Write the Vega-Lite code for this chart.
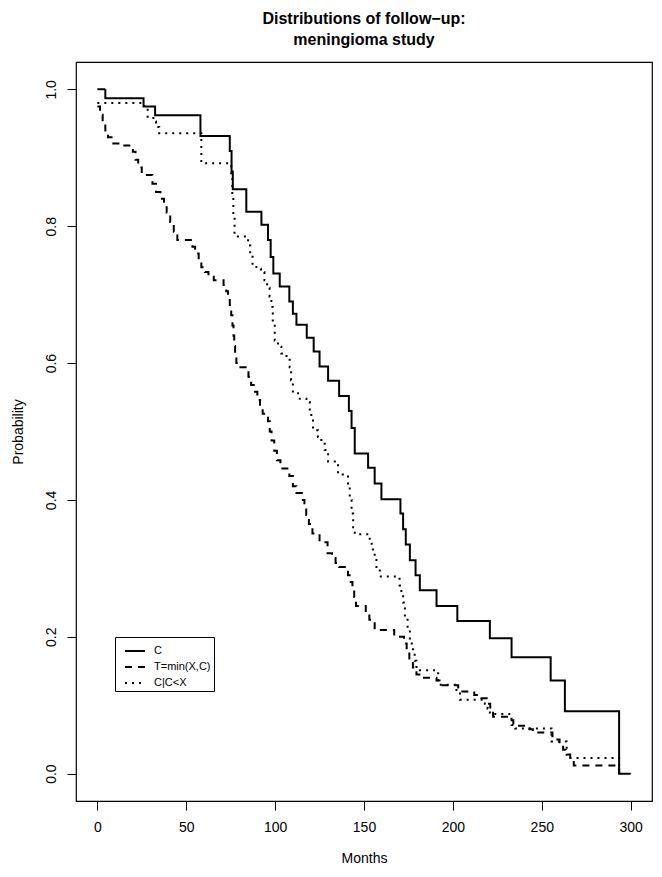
{
  "$schema": "https://vega.github.io/schema/vega-lite/v6.json",
  "width": 576,
  "height": 739,
  "autosize": {"type": "none"},
  "padding": {"left": 76, "top": 62, "right": 10, "bottom": 76},
  "background": "white",
  "title": {
    "text": ["Distributions of follow−up:", "meningioma study"],
    "font": "Liberation Sans",
    "fontSize": 16,
    "fontWeight": "bold",
    "lineHeight": 21,
    "anchor": "middle",
    "offset": 14,
    "color": "black"
  },
  "config": {
    "view": {"stroke": "black", "strokeWidth": 1.2},
    "font": "Liberation Sans"
  },
  "data": {
    "values": [
      {"curve": "C", "months": 0, "prob": 1.0},
      {"curve": "C", "months": 4.5, "prob": 0.987},
      {"curve": "C", "months": 26, "prob": 0.975},
      {"curve": "C", "months": 32.5, "prob": 0.962},
      {"curve": "C", "months": 58, "prob": 0.932},
      {"curve": "C", "months": 74.5, "prob": 0.91},
      {"curve": "C", "months": 75.5, "prob": 0.88},
      {"curve": "C", "months": 76.2, "prob": 0.854},
      {"curve": "C", "months": 83.8, "prob": 0.821},
      {"curve": "C", "months": 92.3, "prob": 0.802},
      {"curve": "C", "months": 96, "prob": 0.78},
      {"curve": "C", "months": 97.5, "prob": 0.755},
      {"curve": "C", "months": 99, "prob": 0.731},
      {"curve": "C", "months": 102.6, "prob": 0.712},
      {"curve": "C", "months": 108, "prob": 0.69},
      {"curve": "C", "months": 110, "prob": 0.672},
      {"curve": "C", "months": 112, "prob": 0.656},
      {"curve": "C", "months": 117.8, "prob": 0.637},
      {"curve": "C", "months": 121.7, "prob": 0.617},
      {"curve": "C", "months": 125, "prob": 0.595},
      {"curve": "C", "months": 129.8, "prob": 0.574},
      {"curve": "C", "months": 136, "prob": 0.552},
      {"curve": "C", "months": 141.5, "prob": 0.53},
      {"curve": "C", "months": 143, "prob": 0.505},
      {"curve": "C", "months": 144.8, "prob": 0.468},
      {"curve": "C", "months": 152.3, "prob": 0.447},
      {"curve": "C", "months": 156, "prob": 0.424},
      {"curve": "C", "months": 159.8, "prob": 0.401},
      {"curve": "C", "months": 170.5, "prob": 0.38},
      {"curve": "C", "months": 172, "prob": 0.357},
      {"curve": "C", "months": 173.5, "prob": 0.335},
      {"curve": "C", "months": 175.8, "prob": 0.312},
      {"curve": "C", "months": 179, "prob": 0.29},
      {"curve": "C", "months": 181.4, "prob": 0.268},
      {"curve": "C", "months": 190.8, "prob": 0.245},
      {"curve": "C", "months": 202.5, "prob": 0.223},
      {"curve": "C", "months": 220.8, "prob": 0.198},
      {"curve": "C", "months": 233, "prob": 0.17},
      {"curve": "C", "months": 255, "prob": 0.136},
      {"curve": "C", "months": 263, "prob": 0.091},
      {"curve": "C", "months": 293.5, "prob": 0.0},
      {"curve": "C", "months": 300, "prob": 0.0},

      {"curve": "T=min(X,C)", "months": 0, "prob": 0.975},
      {"curve": "T=min(X,C)", "months": 1.5, "prob": 0.963},
      {"curve": "T=min(X,C)", "months": 3, "prob": 0.95},
      {"curve": "T=min(X,C)", "months": 4.5, "prob": 0.94},
      {"curve": "T=min(X,C)", "months": 6, "prob": 0.93},
      {"curve": "T=min(X,C)", "months": 9, "prob": 0.921},
      {"curve": "T=min(X,C)", "months": 14, "prob": 0.918},
      {"curve": "T=min(X,C)", "months": 20, "prob": 0.909},
      {"curve": "T=min(X,C)", "months": 21.5, "prob": 0.897},
      {"curve": "T=min(X,C)", "months": 23, "prob": 0.886},
      {"curve": "T=min(X,C)", "months": 25, "prob": 0.875},
      {"curve": "T=min(X,C)", "months": 31, "prob": 0.862},
      {"curve": "T=min(X,C)", "months": 33, "prob": 0.85},
      {"curve": "T=min(X,C)", "months": 35.5, "prob": 0.84},
      {"curve": "T=min(X,C)", "months": 37.5, "prob": 0.83},
      {"curve": "T=min(X,C)", "months": 39, "prob": 0.82},
      {"curve": "T=min(X,C)", "months": 41, "prob": 0.806},
      {"curve": "T=min(X,C)", "months": 43, "prob": 0.792},
      {"curve": "T=min(X,C)", "months": 45, "prob": 0.78},
      {"curve": "T=min(X,C)", "months": 53.5, "prob": 0.77},
      {"curve": "T=min(X,C)", "months": 55, "prob": 0.76},
      {"curve": "T=min(X,C)", "months": 57, "prob": 0.75},
      {"curve": "T=min(X,C)", "months": 58.5, "prob": 0.74},
      {"curve": "T=min(X,C)", "months": 60.5, "prob": 0.733},
      {"curve": "T=min(X,C)", "months": 62.5, "prob": 0.726},
      {"curve": "T=min(X,C)", "months": 65.5, "prob": 0.721},
      {"curve": "T=min(X,C)", "months": 71, "prob": 0.714},
      {"curve": "T=min(X,C)", "months": 72.5, "prob": 0.705},
      {"curve": "T=min(X,C)", "months": 73.5, "prob": 0.695},
      {"curve": "T=min(X,C)", "months": 74.5, "prob": 0.685},
      {"curve": "T=min(X,C)", "months": 75.3, "prob": 0.67},
      {"curve": "T=min(X,C)", "months": 76, "prob": 0.655},
      {"curve": "T=min(X,C)", "months": 76.6, "prob": 0.64},
      {"curve": "T=min(X,C)", "months": 77, "prob": 0.625},
      {"curve": "T=min(X,C)", "months": 77.5, "prob": 0.61},
      {"curve": "T=min(X,C)", "months": 78.2, "prob": 0.6},
      {"curve": "T=min(X,C)", "months": 80.5, "prob": 0.594},
      {"curve": "T=min(X,C)", "months": 85, "prob": 0.58},
      {"curve": "T=min(X,C)", "months": 86.5, "prob": 0.568},
      {"curve": "T=min(X,C)", "months": 88, "prob": 0.558},
      {"curve": "T=min(X,C)", "months": 90, "prob": 0.546},
      {"curve": "T=min(X,C)", "months": 91.5, "prob": 0.535},
      {"curve": "T=min(X,C)", "months": 93, "prob": 0.526},
      {"curve": "T=min(X,C)", "months": 96, "prob": 0.515},
      {"curve": "T=min(X,C)", "months": 97, "prob": 0.5},
      {"curve": "T=min(X,C)", "months": 98, "prob": 0.487},
      {"curve": "T=min(X,C)", "months": 99.5, "prob": 0.472},
      {"curve": "T=min(X,C)", "months": 101, "prob": 0.458},
      {"curve": "T=min(X,C)", "months": 103, "prob": 0.446},
      {"curve": "T=min(X,C)", "months": 108, "prob": 0.435},
      {"curve": "T=min(X,C)", "months": 110, "prob": 0.42},
      {"curve": "T=min(X,C)", "months": 112, "prob": 0.41},
      {"curve": "T=min(X,C)", "months": 115, "prob": 0.4},
      {"curve": "T=min(X,C)", "months": 116.5, "prob": 0.39},
      {"curve": "T=min(X,C)", "months": 117.5, "prob": 0.378},
      {"curve": "T=min(X,C)", "months": 119, "prob": 0.365},
      {"curve": "T=min(X,C)", "months": 121, "prob": 0.351},
      {"curve": "T=min(X,C)", "months": 125, "prob": 0.338},
      {"curve": "T=min(X,C)", "months": 129.5, "prob": 0.322},
      {"curve": "T=min(X,C)", "months": 132, "prob": 0.315},
      {"curve": "T=min(X,C)", "months": 134, "prob": 0.308},
      {"curve": "T=min(X,C)", "months": 136, "prob": 0.302},
      {"curve": "T=min(X,C)", "months": 141, "prob": 0.29},
      {"curve": "T=min(X,C)", "months": 142.5, "prob": 0.28},
      {"curve": "T=min(X,C)", "months": 143.5, "prob": 0.27},
      {"curve": "T=min(X,C)", "months": 144.5, "prob": 0.258},
      {"curve": "T=min(X,C)", "months": 145.5, "prob": 0.245},
      {"curve": "T=min(X,C)", "months": 151, "prob": 0.236},
      {"curve": "T=min(X,C)", "months": 153, "prob": 0.225},
      {"curve": "T=min(X,C)", "months": 156, "prob": 0.21},
      {"curve": "T=min(X,C)", "months": 167, "prob": 0.2},
      {"curve": "T=min(X,C)", "months": 172.5, "prob": 0.19},
      {"curve": "T=min(X,C)", "months": 174, "prob": 0.178},
      {"curve": "T=min(X,C)", "months": 175.5, "prob": 0.166},
      {"curve": "T=min(X,C)", "months": 177.5, "prob": 0.155},
      {"curve": "T=min(X,C)", "months": 179.5, "prob": 0.145},
      {"curve": "T=min(X,C)", "months": 183, "prob": 0.14},
      {"curve": "T=min(X,C)", "months": 190.8, "prob": 0.136},
      {"curve": "T=min(X,C)", "months": 192.5, "prob": 0.129},
      {"curve": "T=min(X,C)", "months": 203, "prob": 0.12},
      {"curve": "T=min(X,C)", "months": 212, "prob": 0.115},
      {"curve": "T=min(X,C)", "months": 216, "prob": 0.11},
      {"curve": "T=min(X,C)", "months": 219, "prob": 0.102},
      {"curve": "T=min(X,C)", "months": 221, "prob": 0.093},
      {"curve": "T=min(X,C)", "months": 222.6, "prob": 0.083},
      {"curve": "T=min(X,C)", "months": 231, "prob": 0.078},
      {"curve": "T=min(X,C)", "months": 234, "prob": 0.07},
      {"curve": "T=min(X,C)", "months": 243, "prob": 0.065},
      {"curve": "T=min(X,C)", "months": 245, "prob": 0.06},
      {"curve": "T=min(X,C)", "months": 256, "prob": 0.05},
      {"curve": "T=min(X,C)", "months": 260, "prob": 0.042},
      {"curve": "T=min(X,C)", "months": 262, "prob": 0.035},
      {"curve": "T=min(X,C)", "months": 263.5, "prob": 0.028},
      {"curve": "T=min(X,C)", "months": 266, "prob": 0.02},
      {"curve": "T=min(X,C)", "months": 268, "prob": 0.012},
      {"curve": "T=min(X,C)", "months": 293.5, "prob": 0.0},

      {"curve": "C|C<X", "months": 0, "prob": 0.98},
      {"curve": "C|C<X", "months": 26.4, "prob": 0.972},
      {"curve": "C|C<X", "months": 28.3, "prob": 0.96},
      {"curve": "C|C<X", "months": 31.5, "prob": 0.953},
      {"curve": "C|C<X", "months": 33, "prob": 0.945},
      {"curve": "C|C<X", "months": 34.8, "prob": 0.936},
      {"curve": "C|C<X", "months": 58.5, "prob": 0.892},
      {"curve": "C|C<X", "months": 75.3, "prob": 0.87},
      {"curve": "C|C<X", "months": 75.9, "prob": 0.845},
      {"curve": "C|C<X", "months": 76.5, "prob": 0.815},
      {"curve": "C|C<X", "months": 77.2, "prob": 0.785},
      {"curve": "C|C<X", "months": 84.8, "prob": 0.772},
      {"curve": "C|C<X", "months": 86, "prob": 0.76},
      {"curve": "C|C<X", "months": 87.3, "prob": 0.745},
      {"curve": "C|C<X", "months": 89.5, "prob": 0.738},
      {"curve": "C|C<X", "months": 92, "prob": 0.733},
      {"curve": "C|C<X", "months": 94, "prob": 0.721},
      {"curve": "C|C<X", "months": 95.5, "prob": 0.71},
      {"curve": "C|C<X", "months": 96.9, "prob": 0.697},
      {"curve": "C|C<X", "months": 97.9, "prob": 0.682},
      {"curve": "C|C<X", "months": 98.7, "prob": 0.66},
      {"curve": "C|C<X", "months": 99.8, "prob": 0.633},
      {"curve": "C|C<X", "months": 101.6, "prob": 0.624},
      {"curve": "C|C<X", "months": 103.5, "prob": 0.614},
      {"curve": "C|C<X", "months": 106.4, "prob": 0.609},
      {"curve": "C|C<X", "months": 108.2, "prob": 0.594},
      {"curve": "C|C<X", "months": 109, "prob": 0.575},
      {"curve": "C|C<X", "months": 110, "prob": 0.556},
      {"curve": "C|C<X", "months": 112.9, "prob": 0.548},
      {"curve": "C|C<X", "months": 117.6, "prob": 0.543},
      {"curve": "C|C<X", "months": 119.5, "prob": 0.524},
      {"curve": "C|C<X", "months": 121.3, "prob": 0.502},
      {"curve": "C|C<X", "months": 124.1, "prob": 0.492},
      {"curve": "C|C<X", "months": 126, "prob": 0.482},
      {"curve": "C|C<X", "months": 127.9, "prob": 0.473},
      {"curve": "C|C<X", "months": 129.8, "prob": 0.456},
      {"curve": "C|C<X", "months": 135.4, "prob": 0.437},
      {"curve": "C|C<X", "months": 141, "prob": 0.419},
      {"curve": "C|C<X", "months": 142, "prob": 0.4},
      {"curve": "C|C<X", "months": 143, "prob": 0.38},
      {"curve": "C|C<X", "months": 143.9, "prob": 0.36},
      {"curve": "C|C<X", "months": 144.8, "prob": 0.35},
      {"curve": "C|C<X", "months": 153.2, "prob": 0.336},
      {"curve": "C|C<X", "months": 155, "prob": 0.32},
      {"curve": "C|C<X", "months": 157, "prob": 0.302},
      {"curve": "C|C<X", "months": 158.9, "prob": 0.288},
      {"curve": "C|C<X", "months": 170, "prob": 0.275},
      {"curve": "C|C<X", "months": 171, "prob": 0.262},
      {"curve": "C|C<X", "months": 172, "prob": 0.25},
      {"curve": "C|C<X", "months": 173, "prob": 0.229},
      {"curve": "C|C<X", "months": 174.5, "prob": 0.21},
      {"curve": "C|C<X", "months": 175.8, "prob": 0.19},
      {"curve": "C|C<X", "months": 177.6, "prob": 0.18},
      {"curve": "C|C<X", "months": 178.5, "prob": 0.165},
      {"curve": "C|C<X", "months": 179.5, "prob": 0.156},
      {"curve": "C|C<X", "months": 181.4, "prob": 0.151},
      {"curve": "C|C<X", "months": 191.7, "prob": 0.13},
      {"curve": "C|C<X", "months": 202, "prob": 0.119},
      {"curve": "C|C<X", "months": 204, "prob": 0.108},
      {"curve": "C|C<X", "months": 218, "prob": 0.102},
      {"curve": "C|C<X", "months": 219.5, "prob": 0.095},
      {"curve": "C|C<X", "months": 220.8, "prob": 0.087},
      {"curve": "C|C<X", "months": 233, "prob": 0.071},
      {"curve": "C|C<X", "months": 235, "prob": 0.066},
      {"curve": "C|C<X", "months": 255.5, "prob": 0.047},
      {"curve": "C|C<X", "months": 264, "prob": 0.023},
      {"curve": "C|C<X", "months": 293.5, "prob": 0.0}
    ]
  },
  "mark": {"type": "line", "interpolate": "step-after", "strokeWidth": 2, "color": "black"},
  "encoding": {
    "x": {
      "field": "months",
      "type": "quantitative",
      "scale": {"domain": [-12, 312], "nice": false, "zero": false},
      "axis": {
        "values": [0, 50, 100, 150, 200, 250, 300],
        "domain": false,
        "grid": false,
        "tickSize": 9,
        "tickColor": "black",
        "labelFontSize": 14,
        "labelColor": "black",
        "labelPadding": 10,
        "labelFont": "Liberation Sans",
        "title": "Months",
        "titleFont": "Liberation Sans",
        "titleFontSize": 14,
        "titleFontWeight": "normal",
        "titleColor": "black",
        "titleY": 57,
        "titleBaseline": "middle"
      }
    },
    "y": {
      "field": "prob",
      "type": "quantitative",
      "scale": {"domain": [-0.04, 1.04], "nice": false, "zero": false},
      "axis": {
        "values": [0, 0.2, 0.4, 0.6, 0.8, 1.0],
        "format": ".1f",
        "domain": false,
        "grid": false,
        "tickSize": 9,
        "tickColor": "black",
        "labelFontSize": 14,
        "labelColor": "black",
        "labelPadding": 9,
        "labelAngle": 270,
        "labelAlign": "center",
        "labelBaseline": "bottom",
        "labelFont": "Liberation Sans",
        "title": "Probability",
        "titleFont": "Liberation Sans",
        "titleFontSize": 14,
        "titleFontWeight": "normal",
        "titleColor": "black",
        "titleAngle": 270,
        "titleX": -58,
        "titleY": 369.5,
        "titleAlign": "center",
        "titleBaseline": "middle"
      }
    },
    "strokeDash": {
      "field": "curve",
      "type": "nominal",
      "scale": {
        "domain": ["C", "T=min(X,C)", "C|C<X"],
        "range": [[1, 0], [7, 6], [2, 5]]
      },
      "legend": {
        "orient": "none",
        "legendX": 39,
        "legendY": 575,
        "title": null,
        "symbolType": "stroke",
        "symbolStrokeWidth": 2,
        "symbolStrokeColor": "black",
        "symbolSize": 400,
        "symbolOffset": 6,
        "labelFontSize": 11,
        "labelFont": "Liberation Sans",
        "labelColor": "black",
        "labelOffset": 8,
        "rowPadding": -10,
        "strokeColor": "black",
        "fillColor": "white",
        "padding": 3
      }
    }
  }
}
